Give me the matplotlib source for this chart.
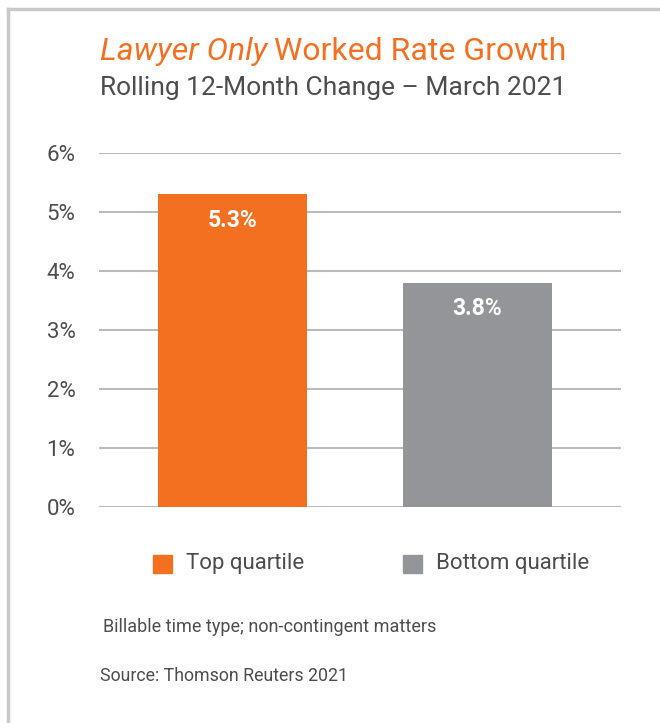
import matplotlib
matplotlib.use("Agg")
import matplotlib.pyplot as plt
from matplotlib.patches import Rectangle
from matplotlib.lines import Line2D

# data
categories = ["Top quartile", "Bottom quartile"]
values = [5.3, 3.8]
yticks = [0, 1, 2, 3, 4, 5, 6]

ORANGE = "#F37021"
GRAY = "#939598"
TXT = "#4D4D4D"
plt.rcParams["font.family"] = ["Roboto", "DejaVu Sans"]

fig = plt.figure(figsize=(6.6, 7.23), dpi=100)
W, H = 660, 723

# frame lines (top and left only)
fig.add_artist(Line2D([7.5 / W, 1], [1 - 8.5 / H, 1 - 8.5 / H], color="#C8C8C8", lw=2.5))
fig.add_artist(Line2D([7.5 / W, 7.5 / W], [0, 1 - 8.5 / H], color="#C8C8C8", lw=2.5))

ax = fig.add_axes([99 / W, 1 - 507 / H, (621 - 99) / W, (507 - 153) / H])
x = [0, 1]
bars = ax.bar(x, values, width=0.61, color=[ORANGE, GRAY], zorder=2)
ax.set_xlim(-0.545, 1.586)
ax.set_ylim(0, 6)
ax.set_yticks(yticks)
ax.set_yticklabels([f"{t}%" for t in yticks], fontsize=16, color=TXT)
ax.tick_params(axis="y", length=0, pad=17)
ax.set_xticks([])
for s in ax.spines.values():
    s.set_visible(False)
ax.grid(axis="y", color="#BBBBBB", lw=1.5, zorder=0)
ax.set_axisbelow(True)

for b, v in zip(bars, values):
    ax.annotate(f"{v}%", (b.get_x() + b.get_width() / 2, v), xytext=(0, -26),
                textcoords="offset pixels",
                ha="center", va="center", color="white", fontsize=16.5, fontweight="bold")

# title with italic part
t1 = fig.text(100 / W, 1 - 52 / H, "Lawyer Only", fontsize=23, style="italic",
              color=ORANGE, va="center", ha="left")
fig.canvas.draw()
bb = t1.get_window_extent()
fig.text((bb.x1 + 7) / W, 1 - 52 / H, "Worked Rate Growth", fontsize=23,
         color=ORANGE, va="center", ha="left")
fig.text(100 / W, 1 - 88 / H, "Rolling 12-Month Change \u2013 March 2021", fontsize=19,
         color=TXT, va="center", ha="left")

# legend
legend_x = [153, 403]
for lx, c, lab in zip(legend_x, [ORANGE, GRAY], categories):
    fig.add_artist(Rectangle((lx / W, 1 - 573 / H), 19 / W, 18 / H, color=c,
                             transform=fig.transFigure))
    fig.text((lx + 33) / W, 1 - 564 / H, lab, fontsize=16, color=TXT,
             va="center", ha="left")

fig.text(103 / W, 1 - 627 / H, "Billable time type; non-contingent matters",
         fontsize=13, color=TXT, va="center", ha="left")
fig.text(100 / W, 1 - 676 / H, "Source: Thomson Reuters 2021",
         fontsize=12.8, color=TXT, va="center", ha="left")

fig.savefig("out.png", dpi=100)
